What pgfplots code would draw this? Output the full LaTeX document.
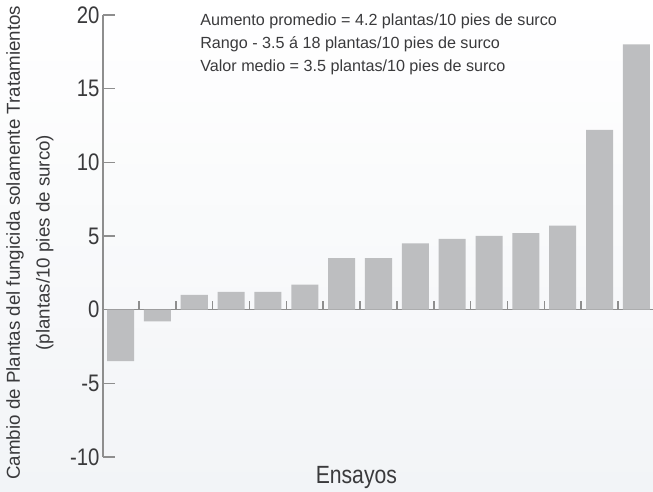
\documentclass[border=0pt]{standalone}
\usepackage{fontspec}
\setmainfont{Liberation Sans}
\usepackage{graphicx}
\usepackage{pgfplots}
\pgfplotsset{compat=1.18}
\definecolor{barc}{HTML}{BDBEC0}
\definecolor{axc}{HTML}{8E8E8E}
\definecolor{txt}{HTML}{3A3A3C}
\definecolor{bgb}{HTML}{F2F4F7}
\newcommand{\cond}[1]{\scalebox{0.85}[1]{#1}}

\begin{document}
\begin{tikzpicture}
% background in bands, white at the top to pale grey at the bottom
% (the axis box is 550bp x 442bp with its lower left corner at the origin)
\foreach \i in {0,...,23} {
  \pgfmathsetmacro\p{100*\i/23}
  \pgfmathsetmacro\ya{(457-\i*20.5)*1.00375}
  \pgfmathsetmacro\yb{(457-(\i+1)*20.5-0.6)*1.00375}
  \fill[bgb!\p!white] (-103bp,\ya pt) rectangle (550bp,\yb pt);
}
\begin{axis}[
  at={(0,0)}, anchor=south west,
  scale only axis, width=550bp, height=442bp,
  xmin=-0.476, xmax=14.45, ymin=-10, ymax=20,
  axis y line=left, axis x line=middle,
  axis line style={axc, line width=1.5bp, -},
  ytick={-10,-5,...,20},
  yticklabels={\cond{-10},\cond{-5},\cond{0},\cond{5},\cond{10},\cond{15},\cond{20}},
  xtick={0.5,1.5,...,13.5},
  xticklabels={},
  tick align=inside,
  major tick length=12bp,
  tick style={axc, line width=1.5bp},
  xtick style={/pgfplots/major tick length=9bp},
  yticklabel style={font=\fontsize{24}{24}\selectfont, text=txt},
  clip=false,
]
% zero line, under the bars
\addplot[axc, line width=1.5bp] coordinates {(-0.476,0) (14.45,0)};
\addplot[ybar, bar width=0.734, fill=barc, draw=none] coordinates {
  (0,-3.5) (1,-0.8) (2,1.0) (3,1.2) (4,1.2) (5,1.7) (6,3.5) (7,3.5)
  (8,4.5) (9,4.8) (10,5.0) (11,5.2) (12,5.7) (13,12.2) (14,18.0)
};
\node[anchor=north west, align=left, inner sep=0, font=\fontsize{16.2}{23}\selectfont, text=txt]
  at (axis cs:2.16,20.1) {Aumento promedio = 4.2 plantas/10 pies de surco\\Rango - 3.5 á 18 plantas/10 pies de surco\\Valor medio = 3.5 plantas/10 pies de surco};
\node[anchor=base, inner sep=0, font=\fontsize{25}{25}\selectfont, text=txt]
  at (axis cs:6.4,-11.8) {\cond{Ensayos}};
\node[rotate=90, align=center, inner sep=0, font=\fontsize{18.8}{30}\selectfont, text=txt]
  at (axis cs:-2.46,4.55) {Cambio de Plantas del fungicida solamente Tratamientos\\(plantas/10 pies de surco)};
\end{axis}
\pgfresetboundingbox
\path[use as bounding box] (-103bp,-35bp) rectangle (550bp,457bp);
\end{tikzpicture}
\end{document}
